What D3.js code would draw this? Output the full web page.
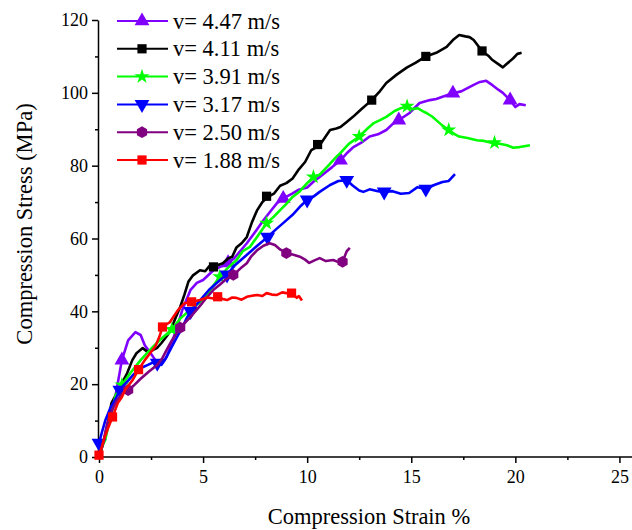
<!DOCTYPE html>
<html>
<head>
<meta charset="utf-8">
<script src="https://cdn.jsdelivr.net/npm/d3@7"></script>
<style>
    html, body { margin: 0; padding: 0; background: #fff; }
    svg { display: block; }
    svg text { font-family: "Times New Roman", "Liberation Serif", "DejaVu Serif", Times, serif; fill: #000; }
    .axis text { font-size: 18px; }
    .axis line, .axis path { stroke: #000; stroke-width: 1.5; }
    .axis-title { font-size: 22.5px; }
    .leg-text { font-size: 22.5px; }
</style>
</head>
<body>
<svg id="chart" width="632" height="530"></svg>
<script>
// Compression stress vs strain at six impact velocities.
var labels = ['v= 4.47 m/s', 'v= 4.11 m/s', 'v= 3.91 m/s', 'v= 3.17 m/s', 'v= 2.50 m/s', 'v= 1.88 m/s'];

// [strain %, stress MPa]
var v447 = [[0,0],[0.25,4.7],[0.5,10],[0.8,17],[1.1,26.6],[1.4,32],[1.75,34.3],[2.0,33.5],[2.2,30.7],
    [2.6,27.5],[2.8,25.8],[3.0,25.5],[3.25,27.5],[3.5,31.3],[3.65,34],[3.9,38.4],[4.0,40.4],[4.4,45.9],
    [4.7,47.8],[5.0,48.6],[5.5,51.3],[5.9,52.4],[6.2,53.3],[6.5,54.6],[7.1,58.7],[7.5,61.8],[7.9,65],
    [8.2,67.2],[8.55,69.7],[8.85,71],[9.3,72.4],[9.6,73.4],[10,74],[10.3,75.6],[10.6,76.9],[11.2,79.6],
    [11.6,81.5],[11.9,83.4],[12.2,85],[12.6,86.3],[13,88],[13.4,88.6],[13.8,89.8],[14.1,91.4],[14.4,92.5],
    [14.9,94.4],[15.4,97.2],[15.9,98],[16.2,98.3],[16.5,98.9],[17.0,99.9],[17.4,100.4],[17.7,101.3],
    [18.0,102.2],[18.3,103],[18.6,103.3],[18.9,102.1],[19.2,100.8],[19.4,100],[19.75,98],[20,96.1],
    [20.2,96.9],[20.5,96.6]];
var v411 = [[0,0],[0.25,4.7],[0.45,10],[0.6,14.8],[0.9,18],[1.1,20.3],[1.35,23],[1.6,26.6],[1.8,28.5],
    [2.1,29.9],[2.35,28.8],[2.6,29.4],[2.8,30],[3.0,31.3],[3.3,33.5],[3.5,35.7],[3.7,38.5],[3.9,41.2],
    [4.1,44.5],[4.3,48.2],[4.5,49.8],[4.85,51.3],[5.1,51],[5.3,52.4],[5.5,52.2],[5.75,52.8],[5.95,53.2],
    [6.2,54.5],[6.4,55],[6.6,57.5],[6.85,58.7],[7.1,60.4],[7.35,64.5],[7.6,67.8],[7.85,70],[8.1,71.4],
    [8.4,72.3],[8.7,74.5],[9.0,75.2],[9.3,76.5],[9.6,79],[9.9,81],[10.2,84.3],[10.6,85.6],[11.1,89.8],
    [11.4,90.2],[11.6,90.6],[11.9,92],[12.2,93.4],[12.6,95.5],[13.1,98],[13.5,100.5],[13.8,102.7],
    [14.3,105],[14.8,107],[15.2,108.2],[15.7,110],[16.2,111],[16.7,112.6],[17.0,114.5],[17.3,115.9],
    [17.6,115.5],[17.8,115.3],[18.0,114.5],[18.2,113],[18.4,111.5],[18.7,110.2],[18.9,109],[19.2,107.8],
    [19.4,107],[19.55,107.8],[19.7,108.5],[19.9,109.5],[20.1,110.7],[20.3,111]];
var v391 = [[0,0],[0.15,3],[0.3,4.7],[0.5,10],[0.8,17],[1.1,19.8],[1.5,23],[2.0,26.6],[2.45,29.4],
    [2.9,32],[3.5,35],[3.9,38],[4.4,40.5],[4.85,42.5],[5.3,45.5],[5.8,49.5],[6.2,52],[6.6,54],[6.9,56.5],
    [7.25,57.7],[7.6,60.5],[8.05,64.2],[8.4,66],[8.7,67.8],[9.0,69.5],[9.3,71.4],[9.65,73],[10.0,75.2],
    [10.3,76.9],[10.6,77.5],[10.95,79.6],[11.4,82.4],[11.6,83.5],[12.0,86],[12.5,88],[12.9,90.2],
    [13.2,91.7],[13.5,92.5],[13.8,93.4],[14.2,95],[14.5,95.8],[14.8,96.3],[15.05,95.5],[15.3,95.8],
    [15.55,95],[15.75,94.4],[16.0,93.5],[16.2,92.5],[16.5,91],[16.85,89.6],[17.1,88.6],[17.3,88],
    [17.7,87.6],[18.15,87],[18.5,86.8],[18.9,86.2],[19.25,86],[19.6,85.6],[19.9,84.9],[20.2,85.1],
    [20.5,85.4],[20.7,85.6]];
var v317 = [[0,3.8],[0.15,7],[0.3,10],[0.55,13.5],[0.8,16],[1.0,18.4],[1.2,19.8],[1.4,21],[1.65,22.6],
    [1.9,24],[2.15,24.8],[2.35,25.3],[2.6,26],[2.8,25.8],[3.0,25.3],[3.2,27],[3.5,30.3],[3.75,33],
    [4.0,35.5],[4.2,38],[4.4,40],[4.7,42],[5.0,44],[5.3,46],[5.6,47.5],[5.9,49],[6.15,50],[6.5,52.5],
    [6.9,54.5],[7.3,56.5],[7.7,58.5],[8.1,60.4],[8.5,62.5],[8.9,64.5],[9.3,66.5],[9.7,69],[10.0,70.6],
    [10.3,71.5],[10.6,72.8],[11.1,74.7],[11.5,75.8],[11.9,76],[12.2,74.5],[12.5,73.2],[12.7,72.8],
    [13.0,73.5],[13.4,73],[13.7,72.8],[14.1,73],[14.5,72.3],[14.9,72.5],[15.3,74.1],[15.7,73.6],
    [16.1,74.7],[16.5,75.5],[16.8,75.8],[17.1,77.7]];
var v250 = [[0,0],[0.2,4],[0.4,9.3],[0.6,12.5],[0.85,15.5],[1.15,17.6],[1.4,18.4],[1.7,19.8],[2.0,21.5],
    [2.4,23.5],[2.8,25.3],[3.05,27.2],[3.25,29.4],[3.5,32],[3.9,35.5],[4.15,37],[4.4,38.5],[4.85,41.5],
    [5.2,44],[5.5,45.9],[5.8,47.3],[6.1,48.8],[6.45,50],[6.8,51.8],[7.1,53.2],[7.3,55],[7.6,56.8],
    [7.9,58],[8.2,58.7],[8.45,58.2],[8.7,57],[9.0,56],[9.3,55.6],[9.65,55],[9.9,54.2],[10.1,53.3],
    [10.35,54],[10.6,54.6],[10.9,53.8],[11.25,54.1],[11.5,53.5],[11.7,53.6],[11.9,56.5],[12.05,57.4]];
var v188 = [[0,0],[0.1,2],[0.25,5],[0.45,8.2],[0.65,11],[0.9,14.8],[1.1,16.5],[1.25,18.4],[1.6,21],
    [1.9,24],[2.2,26.6],[2.45,28.5],[2.7,30.3],[2.9,33],[3.05,35.7],[3.4,37],[3.8,40.4],[4.1,42.2],
    [4.45,42.6],[4.85,43.1],[5.2,43.8],[5.5,43.5],[5.7,44],[5.95,43.4],[6.15,43.1],[6.4,43.8],[6.6,43.7],
    [6.85,43.2],[7.1,44],[7.35,44.3],[7.6,44.5],[7.85,44.2],[8.05,45],[8.3,44.6],[8.55,44.5],[8.8,45.2],
    [9.0,45],[9.25,45],[9.4,44.3],[9.5,43.7],[9.6,44.2],[9.75,43]];

// marker positions along each curve
var m447 = [[1.1,26.6],[6.2,53.3],[8.85,71],[11.6,81.5],[14.4,92.5],[17.0,99.9],[19.75,98]];
var m411 = [[5.5,52.2],[8.05,71.6],[10.5,85.8],[13.1,98],[15.7,110],[18.4,111.5]];
var m391 = [[1.1,19.8],[3.5,35],[5.8,49.5],[8.05,64.2],[10.3,76.9],[12.5,88],[14.8,96.3],[16.8,89.8],[19.0,86.3]];
var m317 = [[0,3.8],[1.0,18.4],[2.8,25.8],[4.4,40],[6.15,50],[8.1,60.4],[10.0,70.6],[11.9,76],[13.7,72.8],[15.7,73.6]];
var m250 = [[1.4,18.4],[3.9,35.5],[6.45,50],[9.0,56],[11.7,53.6]];
var m188 = [[0,0.5],[0.65,11],[1.9,24],[3.05,35.7],[4.45,42.6],[5.7,44],[9.25,45]];

var xTicks = [0, 5, 10, 15, 20, 25];
var yTicks = [0, 20, 40, 60, 80, 100, 120];

(function () {
    var svg = d3.select('#chart');

    var x = d3.scaleLinear().domain([0, 25.7]).range([99, 634]);
    var y = d3.scaleLinear().domain([0, 120]).range([457, 20]);

    var hexagon = {
        draw: function (ctx, size) {
            var r = Math.sqrt(size / 2.6);
            for (var i = 0; i < 6; i++) {
                var a = Math.PI / 6 + i * Math.PI / 3;
                if (i === 0) ctx.moveTo(r * Math.cos(a), r * Math.sin(a));
                else ctx.lineTo(r * Math.cos(a), r * Math.sin(a));
            }
            ctx.closePath();
        }
    };
    var triDown = {
        draw: function (ctx, size) {
            var h = Math.sqrt(size / 0.433);
            ctx.moveTo(-h / 2, -h * 0.29);
            ctx.lineTo(h / 2, -h * 0.29);
            ctx.lineTo(0, h * 0.58);
            ctx.closePath();
        }
    };

    var series = [
        { name: labels[0], data: v447, marks: m447, color: '#8000ff', sym: d3.symbolTriangle, size: 95 },
        { name: labels[1], data: v411, marks: m411, color: '#000000', sym: d3.symbolSquare, size: 85 },
        { name: labels[2], data: v391, marks: m391, color: '#00ff00', sym: d3.symbolStar, size: 70 },
        { name: labels[3], data: v317, marks: m317, color: '#0000ff', sym: triDown, size: 95 },
        { name: labels[4], data: v250, marks: m250, color: '#800080', sym: hexagon, size: 90 },
        { name: labels[5], data: v188, marks: m188, color: '#ff0000', sym: d3.symbolSquare, size: 85 }
    ];

    // axes
    var ax = svg.append('g').attr('class', 'axis')
        .attr('transform', 'translate(0,457)')
        .call(d3.axisBottom(x).tickValues(xTicks).tickSize(6).tickPadding(5).tickSizeOuter(0));
    ax.select('.domain').attr('d', 'M98,0H634');
    ax.selectAll('.tick text').attr('dy', '0.85em');
    var axm = svg.append('g').attr('class', 'axis')
        .attr('transform', 'translate(0,457)')
        .call(d3.axisBottom(x).tickValues([2.5, 7.5, 12.5, 17.5, 22.5]).tickSize(3).tickFormat(''));
    axm.select('.domain').remove();

    var ay = svg.append('g').attr('class', 'axis')
        .attr('transform', 'translate(98,0)')
        .call(d3.axisLeft(y).tickValues(yTicks).tickSize(6).tickPadding(4).tickSizeOuter(0));
    var aym = svg.append('g').attr('class', 'axis')
        .attr('transform', 'translate(98,0)')
        .call(d3.axisLeft(y).tickValues([10, 30, 50, 70, 90, 110]).tickSize(3).tickFormat(''));
    aym.select('.domain').remove();

    svg.append('text').attr('class', 'axis-title')
        .attr('x', 369).attr('y', 524)
        .attr('text-anchor', 'middle')
        .text('Compression Strain %');
    svg.append('text').attr('class', 'axis-title')
        .attr('transform', 'translate(32,224) rotate(-90)')
        .attr('text-anchor', 'middle')
        .text('Compression Stress (MPa)');

    var line = d3.line().x(function (d) { return x(d[0]); }).y(function (d) { return y(d[1]); });

    series.forEach(function (s) {
        svg.append('path')
            .datum(s.data)
            .attr('fill', 'none')
            .attr('stroke', s.color)
            .attr('stroke-width', 2.6)
            .attr('stroke-linejoin', 'round')
            .attr('d', line);
        svg.append('g').selectAll('path')
            .data(s.marks)
            .enter().append('path')
            .attr('transform', function (d) { return 'translate(' + x(d[0]) + ',' + y(d[1]) + ')'; })
            .attr('fill', s.color)
            .attr('d', d3.symbol().type(s.sym).size(s.size));
    });

    // legend
    var leg = svg.append('g');
    series.forEach(function (s, i) {
        var cy = 21 + i * 27.8;
        leg.append('line')
            .attr('x1', 117).attr('x2', 168).attr('y1', cy).attr('y2', cy)
            .attr('stroke', s.color).attr('stroke-width', 2);
        leg.append('path')
            .attr('transform', 'translate(142,' + cy + ')')
            .attr('fill', s.color)
            .attr('d', d3.symbol().type(s.sym).size(s.size));
        leg.append('text').attr('class', 'leg-text')
            .attr('x', 173).attr('y', cy + 7.5)
            .text(s.name);
    });
})();
</script>
</body>
</html>
